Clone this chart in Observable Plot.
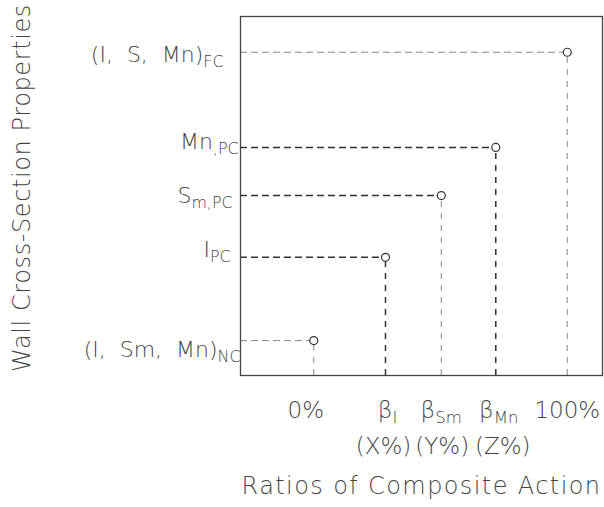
<!DOCTYPE html>
<html>
<head>
<meta charset="utf-8">
<script src="https://cdn.jsdelivr.net/npm/d3@7"></script>
<script src="https://cdn.jsdelivr.net/npm/@observablehq/plot@0.6"></script>
<style>
  html, body { margin: 0; padding: 0; background: #fff; }
  svg text { white-space: pre; }
</style>
</head>
<body>
<div id="chart"></div>
<script>
// ---- data ----
const categories = ["(I,  Sm,  Mn)_NC", "I_PC", "S_m,PC", "Mn_,PC", "(I,  S,  Mn)_FC"];
const ratio      = [0, 0.283, 0.503, 0.718, 1.0];     // ratio of composite action
const property   = [0, 0.289, 0.503, 0.670, 1.0];     // wall cross-section property level
const xTickLabels = ["0%", "β_I", "β_Sm", "β_Mn", "100%"];
const xSubLabels  = ["", "(X%)", "(Y%)", "(Z%)", ""];
const xTitle = "Ratios of Composite Action";
const yTitle = "Wall Cross-Section Properties";

// ---- styling (not data) ----
const xDomain = [-0.289, 1.139];
const yDomain = [-0.121, 1.124];
const hDark = [false, true, true, true, false];
const vDark = [false, true, false, true, false];
const labelDx = [0, -10, -8, -2, -17];
const labelDy = [16, 0, 7, 2, 10];
const tickDx = [-8, 2, 0, 3, 0];
const subDx = [0, -2, 1, 7, 0];
const idx = d3.range(categories.length);
const font = "'DejaVu Sans', sans-serif";

const leftLabelMarks = idx.map(i => Plot.text([i], {
  x: () => xDomain[0], y: () => property[i], text: () => categories[i],
  textAnchor: "end", lineAnchor: "bottom", dx: labelDx[i], dy: labelDy[i],
  fontSize: 22, fill: "#444"
}));
const tickMarks = idx.map(i => Plot.text([i], {
  x: () => ratio[i], frameAnchor: "bottom", text: () => xTickLabels[i],
  lineAnchor: "bottom", dx: tickDx[i], dy: 42, fontSize: 23, fill: "#444"
}));
const subMarks = idx.map(i => Plot.text([i], {
  x: () => ratio[i], frameAnchor: "bottom", text: () => xSubLabels[i],
  lineAnchor: "bottom", dx: subDx[i], dy: 78, fontSize: 23, fill: "#444"
}));

const chart = Plot.plot({
  width: 604, height: 507,
  marginLeft: 240, marginRight: 2, marginTop: 16, marginBottom: 132,
  x: {domain: xDomain, axis: null},
  y: {domain: yDomain, axis: null},
  style: {fontFamily: font, fontWeight: 200, background: "#fff", color: "#444"},
  marks: [
    // horizontal dashed leaders
    Plot.ruleY(idx, {
      y: i => property[i], x1: () => xDomain[0], x2: i => ratio[i],
      stroke: i => hDark[i] ? "#333" : "#888",
      strokeWidth: i => hDark[i] ? 1.5 : 1,
      strokeDasharray: "7,4"
    }),
    // vertical dashed leaders
    Plot.ruleX(idx, {
      x: i => ratio[i], y1: () => yDomain[0], y2: i => property[i],
      stroke: i => vDark[i] ? "#333" : "#888",
      strokeWidth: i => vDark[i] ? 1.5 : 1,
      strokeDasharray: "6,6"
    }),
    Plot.frame({stroke: "#444", strokeWidth: 1.3}),
    Plot.dot(idx, {x: i => ratio[i], y: i => property[i], r: 4, stroke: "#333", fill: "#fff", strokeWidth: 1.2}),
    ...leftLabelMarks,
    ...tickMarks,
    ...subMarks,
    // axis titles
    Plot.text([xTitle], {frameAnchor: "bottom", lineAnchor: "bottom", dy: 118,
      fontSize: 24, fill: "#444"}),
    Plot.text([yTitle], {frameAnchor: "left", textAnchor: "middle", dx: -218, dy: -8, rotate: -90,
      fontSize: 24, fill: "#444"})
  ]
});

// render "base_sub" strings with a real subscript; widen the titles slightly
chart.querySelectorAll("text").forEach(t => {
  const s = t.textContent;
  if (s === xTitle) t.style.letterSpacing = "1.4px";
  if (s === yTitle) t.style.letterSpacing = "0.6px";
  if (!s.includes("_")) return;
  const [base, sub] = s.split("_");
  t.textContent = "";
  const ns = "http://www.w3.org/2000/svg";
  const a = document.createElementNS(ns, "tspan");
  a.textContent = base;
  const b = document.createElementNS(ns, "tspan");
  b.textContent = sub;
  b.setAttribute("dy", "0.32em");
  b.setAttribute("font-size", "0.72em");
  t.appendChild(a); t.appendChild(b);
});

document.getElementById("chart").appendChild(chart);
</script>
</body>
</html>
